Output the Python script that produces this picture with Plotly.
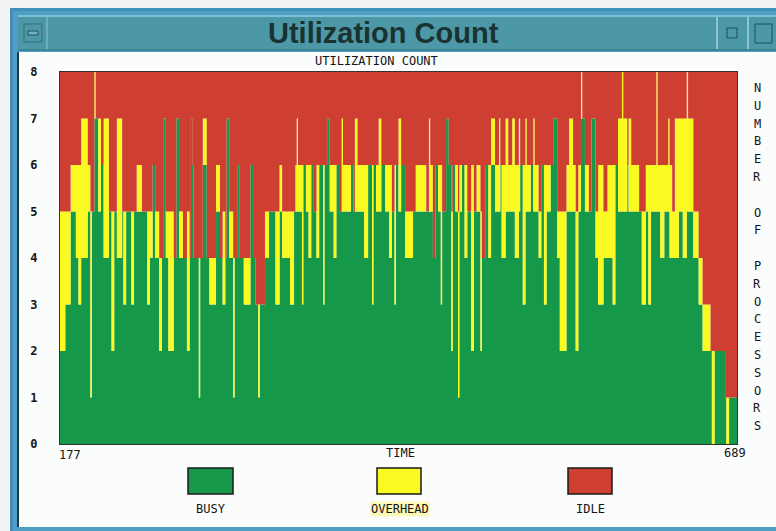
import plotly.graph_objects as go

# ---------------- data ----------------
TOTAL_PROCESSORS = 8
time_points = [177, 181, 185, 189, 191, 193, 198, 200, 201, 203, 204, 206, 208, 210, 214, 216, 218, 220, 224, 225,
               227, 231, 233, 235, 239, 243, 245, 247, 249, 252, 254, 255, 257, 259, 263, 265, 267, 270, 273, 275,
               276, 277, 278, 282, 283, 285, 288, 290, 295, 298, 300, 302, 303, 305, 308, 309, 311, 313, 316, 321,
               323, 325, 327, 328, 332, 335, 340, 343, 345, 351, 354, 355, 356, 357, 360, 361, 363, 365, 367, 369,
               371, 373, 376, 377, 379, 381, 384, 386, 388, 390, 391, 397, 399, 400, 402, 407, 410, 413, 414, 416,
               418, 420, 423, 426, 428, 430, 431, 433, 435, 438, 444, 446, 454, 456, 457, 459, 461, 463, 465, 466,
               469, 471, 473, 474, 476, 478, 479, 481, 483, 485, 488, 490, 492, 495, 496, 499, 501, 503, 506, 509,
               510, 511, 514, 516, 519, 521, 524, 525, 527, 529, 530, 533, 535, 536, 539, 541, 543, 545, 548, 550,
               553, 555, 560, 562, 565, 567, 569, 571, 572, 574, 577, 579, 582, 584, 588, 591, 595, 597, 599, 602,
               603, 606, 607, 609, 615, 617, 620, 622, 624, 628, 629, 631, 634, 637, 638, 640, 642, 645, 648, 651,
               652, 656, 660, 663, 669, 670, 672, 680, 681, 683, 689]
busy = [2, 3, 5, 4, 3, 4, 5, 1, 5, 7, 7, 5, 6, 4, 5, 2, 5, 4, 5, 3,
        5, 3, 5, 5, 5, 3, 4, 6, 4, 2, 4, 7, 4, 2, 4, 7, 4, 4, 2, 4,
        7, 6, 4, 1, 4, 6, 4, 3, 5, 4, 3, 4, 7, 4, 1, 4, 6, 4, 3, 6,
        4, 3, 1, 3, 4, 5, 3, 5, 4, 3, 5, 5, 5, 5, 3, 6, 5, 4, 6, 5,
        4, 6, 3, 6, 7, 5, 4, 6, 5, 5, 5, 6, 5, 5, 5, 4, 6, 3, 6, 5,
        5, 6, 5, 4, 5, 3, 6, 5, 6, 4, 5, 5, 5, 5, 5, 4, 6, 5, 3, 5,
        7, 6, 2, 6, 5, 1, 5, 6, 4, 5, 2, 5, 5, 2, 4, 6, 4, 6, 5, 5,
        6, 4, 5, 5, 5, 4, 5, 6, 3, 5, 5, 6, 5, 5, 4, 6, 3, 5, 6, 7,
        4, 2, 5, 5, 5, 2, 5, 7, 7, 5, 5, 7, 4, 3, 4, 4, 3, 6, 5, 5,
        5, 6, 5, 5, 5, 3, 5, 3, 5, 5, 5, 4, 5, 5, 4, 4, 4, 5, 4, 5,
        5, 4, 3, 2, 2, 0, 2, 1, 0, 1, 1]
overhead = [3, 2, 1, 2, 3, 3, 1, 4, 0, 1, 0, 2, 0, 3, 0, 3, 0, 3, 0, 2,
            0, 2, 0, 1, 0, 2, 1, 0, 1, 2, 0, 0, 1, 3, 0, 0, 1, 0, 3, 0,
            0, 0, 0, 3, 0, 1, 0, 1, 1, 0, 2, 0, 0, 1, 3, 0, 0, 0, 1, 0,
            0, 0, 2, 0, 1, 0, 2, 1, 1, 2, 0, 1, 2, 1, 3, 0, 1, 2, 0, 0,
            2, 0, 3, 0, 0, 1, 2, 0, 0, 2, 1, 0, 0, 2, 1, 2, 0, 3, 0, 1,
            2, 0, 1, 2, 0, 3, 0, 2, 0, 1, 0, 1, 0, 2, 1, 0, 0, 1, 3, 0,
            0, 0, 3, 0, 1, 4, 1, 0, 2, 0, 4, 0, 1, 3, 0, 0, 2, 1, 1, 2,
            0, 2, 2, 1, 2, 2, 2, 0, 3, 2, 1, 0, 2, 1, 1, 0, 3, 1, 0, 0,
            1, 3, 1, 2, 1, 3, 1, 1, 0, 1, 0, 0, 1, 3, 1, 2, 3, 0, 2, 3,
            2, 0, 2, 1, 0, 2, 1, 3, 1, 3, 1, 2, 1, 2, 2, 1, 3, 2, 3, 3,
            2, 1, 1, 1, 0, 2, 0, 0, 1, 0, 0]
idle = [TOTAL_PROCESSORS - b - o for b, o in zip(busy, overhead)]

y_ticks = [0, 1, 2, 3, 4, 5, 6, 7, 8]
t_start, t_end = 177, 689
legend_names = ["BUSY", "OVERHEAD", "IDLE"]

GREEN = "#16984a"
YELLOW = "#fafa22"
RED = "#cf3f31"

# ---------------- layout geometry (pixels) ----------------
W, H = 776, 531
PL, PR, PT, PB = 60, 737, 72, 444


def px(x):
    return (x - PL) / (PR - PL)


def py(y):
    return (PB - y) / (PB - PT)


fig = go.Figure()
for name, vals, col in [("BUSY", busy, GREEN), ("OVERHEAD", overhead, YELLOW), ("IDLE", idle, RED)]:
    fig.add_trace(go.Scatter(
        x=time_points, y=vals, name=name, mode="lines", stackgroup="u",
        line=dict(shape="hv", width=0, color=col), fillcolor=col,
        hoverinfo="x+y+name"))

shapes = []


def rect(x0, y0, x1, y1, fill, line=None, lw=0, layer="below"):
    shapes.append(dict(type="rect", xref="paper", yref="paper",
                       x0=px(x0), x1=px(x1), y0=py(y1), y1=py(y0),
                       fillcolor=fill, line=dict(color=line or fill, width=lw), layer=layer))


def vline(x, y0, y1, color, lw=1):
    shapes.append(dict(type="line", xref="paper", yref="paper",
                       x0=px(x), x1=px(x), y0=py(y1), y1=py(y0),
                       line=dict(color=color, width=lw), layer="below"))


def hline(x0, x1, y, color, lw=1):
    shapes.append(dict(type="line", xref="paper", yref="paper",
                       x0=px(x0), x1=px(x1), y0=py(y), y1=py(y),
                       line=dict(color=color, width=lw), layer="below"))


# window frame
rect(10, 8, 780, 535, "#3f8fb9")
rect(13, 11, 780, 535, "#4f9ec4")
rect(18, 16, 780, 50, "#4d98a6")
hline(18, 780, 16, "#7cc0d8", 2)
hline(18, 780, 50, "#2f6f80", 1)
rect(18, 52, 780, 527, "#fbfcfc")
vline(18, 52, 527, "#1e3a44", 2)
# title bar buttons
vline(47, 17, 49, "#8cc6d6", 1)
rect(24, 24, 42, 42, "#4d98a6", "#2f6f80", 1)
rect(28, 31, 38, 35, "#6fb2c0", "#1f4f5a", 1)
vline(717, 17, 49, "#8cc6d6", 2)
vline(748, 17, 49, "#8cc6d6", 2)
rect(727, 28, 737, 38, "#4d98a6", "#1f4f5a", 1)
rect(755, 24, 772, 43, "#4d98a6", "#1f4f5a", 1)

# legend swatches
for (x0, x1), col in zip([(188, 233), (377, 421), (568, 612)], [GREEN, YELLOW, RED]):
    rect(x0, 468, x1, 494, col, "#1a1a1a", 1.5, layer="above")

MONO = "DejaVu Sans Mono"
ann = []


def text(x, y, s, size=12, xanchor="center", color="#151515", family=MONO, bg=None, bold=False):
    d = dict(xref="paper", yref="paper", x=px(x), y=py(y), text=s, showarrow=False,
             xanchor=xanchor, yanchor="middle",
             font=dict(family=family, size=size, color=color, weight="bold" if bold else "normal"))
    if bg:
        d["bgcolor"] = bg
        d["borderpad"] = 0
    ann.append(d)


text(383, 33, "Utilization Count", size=29, family="Liberation Sans Narrow, Liberation Sans",
     color="#1a3232", bold=True)
text(376, 61, "UTILIZATION COUNT", size=12)
text(57, 455, str(t_start), size=12, xanchor="left")
text(748, 453, str(t_end), size=12, xanchor="right")
text(400, 453, "TIME", size=12)
for name, xc in zip(legend_names, [211, 400, 590]):
    text(xc, 509, name, size=12, bg="#fbf8b8" if name == "OVERHEAD" else None)
side = "NUMBER OF PROCESSORS"
for i, ch in enumerate(side):
    if ch != " ":
        text(757, 88 + i * 17.8, ch, size=12)

fig.update_layout(
    width=W, height=H,
    margin=dict(l=PL, r=W - PR, t=PT, b=H - PB, pad=0),
    paper_bgcolor="#f2f4f4", plot_bgcolor=RED,
    showlegend=False, shapes=shapes, annotations=ann,
    xaxis=dict(range=[t_start, t_end], showticklabels=False, showgrid=False, zeroline=False,
               showline=True, linecolor="#333333", linewidth=1, mirror=True, ticks=""),
    yaxis=dict(range=[0, 8], tickvals=y_ticks, ticktext=[str(v) for v in y_ticks],
               showgrid=False, zeroline=False, ticks="", ticklabelstandoff=19,
               tickfont=dict(family=MONO, size=12, color="#151515", weight="bold"),
               showline=True, linecolor="#333333", linewidth=1, mirror=True),
)

fig.write_html("out.html", config={"displayModeBar": False},
               post_script="document.body.style.margin='0';document.body.style.overflow='hidden';")
